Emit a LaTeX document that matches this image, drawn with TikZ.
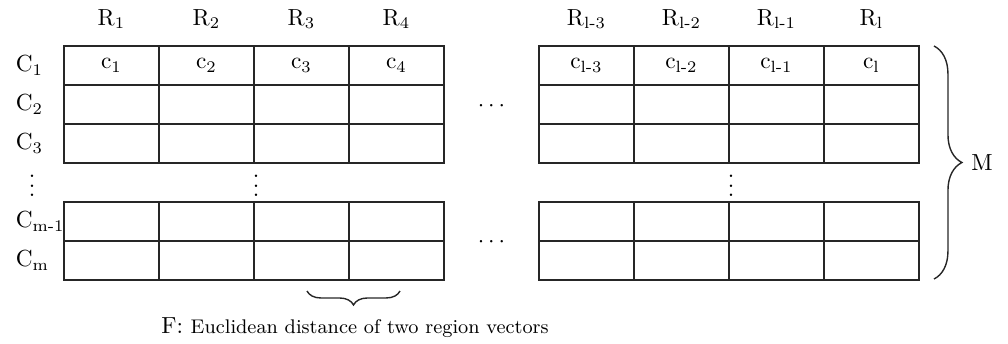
\documentclass[tikz,border=0pt]{standalone}
\usetikzlibrary{decorations.pathreplacing}

\tikzset{
  cellbox/.style={draw=black!85,line width=0.6pt},
  lab/.style={inner sep=1pt,font=\normalsize},
  vdotlab/.style={inner sep=0pt,anchor=south},
  curly/.style={decorate,draw=black!85,line width=0.6pt,decoration={brace,amplitude=#1}}
}

\begin{document}
\begin{tikzpicture}[x=0.43pt,y=-0.43pt]
  \path[use as bounding box] (0,0) rectangle (1008,343);
  % two blocks of 4 columns, upper 3 rows and lower 2 rows
  \foreach \xa in {64,539} {
    \foreach \ya in {46,85,124,202,241} {
      \foreach \i in {0,...,3} {
        \draw[cellbox] (\xa+\i*95,\ya) rectangle ++(95,39);
      }
    }
  }
  % column heads and first cells
  \foreach \k [count=\i from 0] in {1,2,3,4} {
    \node[lab] (R\k) at (111.5+\i*95,19) {R\textsubscript{\k}};
    \node[lab] (c\k) at (111.5+\i*95,65.5) {c\textsubscript{\k}};
  }
  \foreach \k [count=\i from 0] in {l-3,l-2,l-1,l} {
    \node[lab] (Rr\i) at (586.5+\i*95,19) {R\textsubscript{\k}};
    \node[lab] (cr\i) at (586.5+\i*95,65.5) {c\textsubscript{\k}};
  }
  % row heads
  \node[lab,anchor=west] (C1) at (13,65.5) {C\textsubscript{1}};
  \node[lab,anchor=west] (C2) at (13,104.5) {C\textsubscript{2}};
  \node[lab,anchor=west] (C3) at (13,143.5) {C\textsubscript{3}};
  \node[lab,anchor=west] (Cm1) at (13,221.5) {C\textsubscript{m-1}};
  \node[lab,anchor=west] (Cm) at (13,260.5) {C\textsubscript{m}};
  % dots
  \node[lab] (hdotsA) at (491.5,106) {$\cdots$};
  \node[lab] (hdotsB) at (491.5,242) {$\cdots$};
  \node[vdotlab] (vdotsA) at (32,197) {$\vdots$};
  \node[vdotlab] (vdotsB) at (256,197) {$\vdots$};
  \node[vdotlab] (vdotsC) at (731,197) {$\vdots$};
  % brace for M
  \coordinate (mtop) at (934,46);
  \coordinate (mbot) at (934,279);
  \draw[curly=12pt] (mtop) -- (mbot);
  \node[lab] (M) at (982,163) {M};
  % brace for F
  \coordinate (fright) at (400,291);
  \coordinate (fleft) at (307,291);
  \draw[curly=6pt] (fright) -- (fleft);
  \node[lab] (F) at (355,328) {F: {\fontsize{8.5}{10}\selectfont Euclidean distance of two region vectors}};
\end{tikzpicture}
\end{document}
